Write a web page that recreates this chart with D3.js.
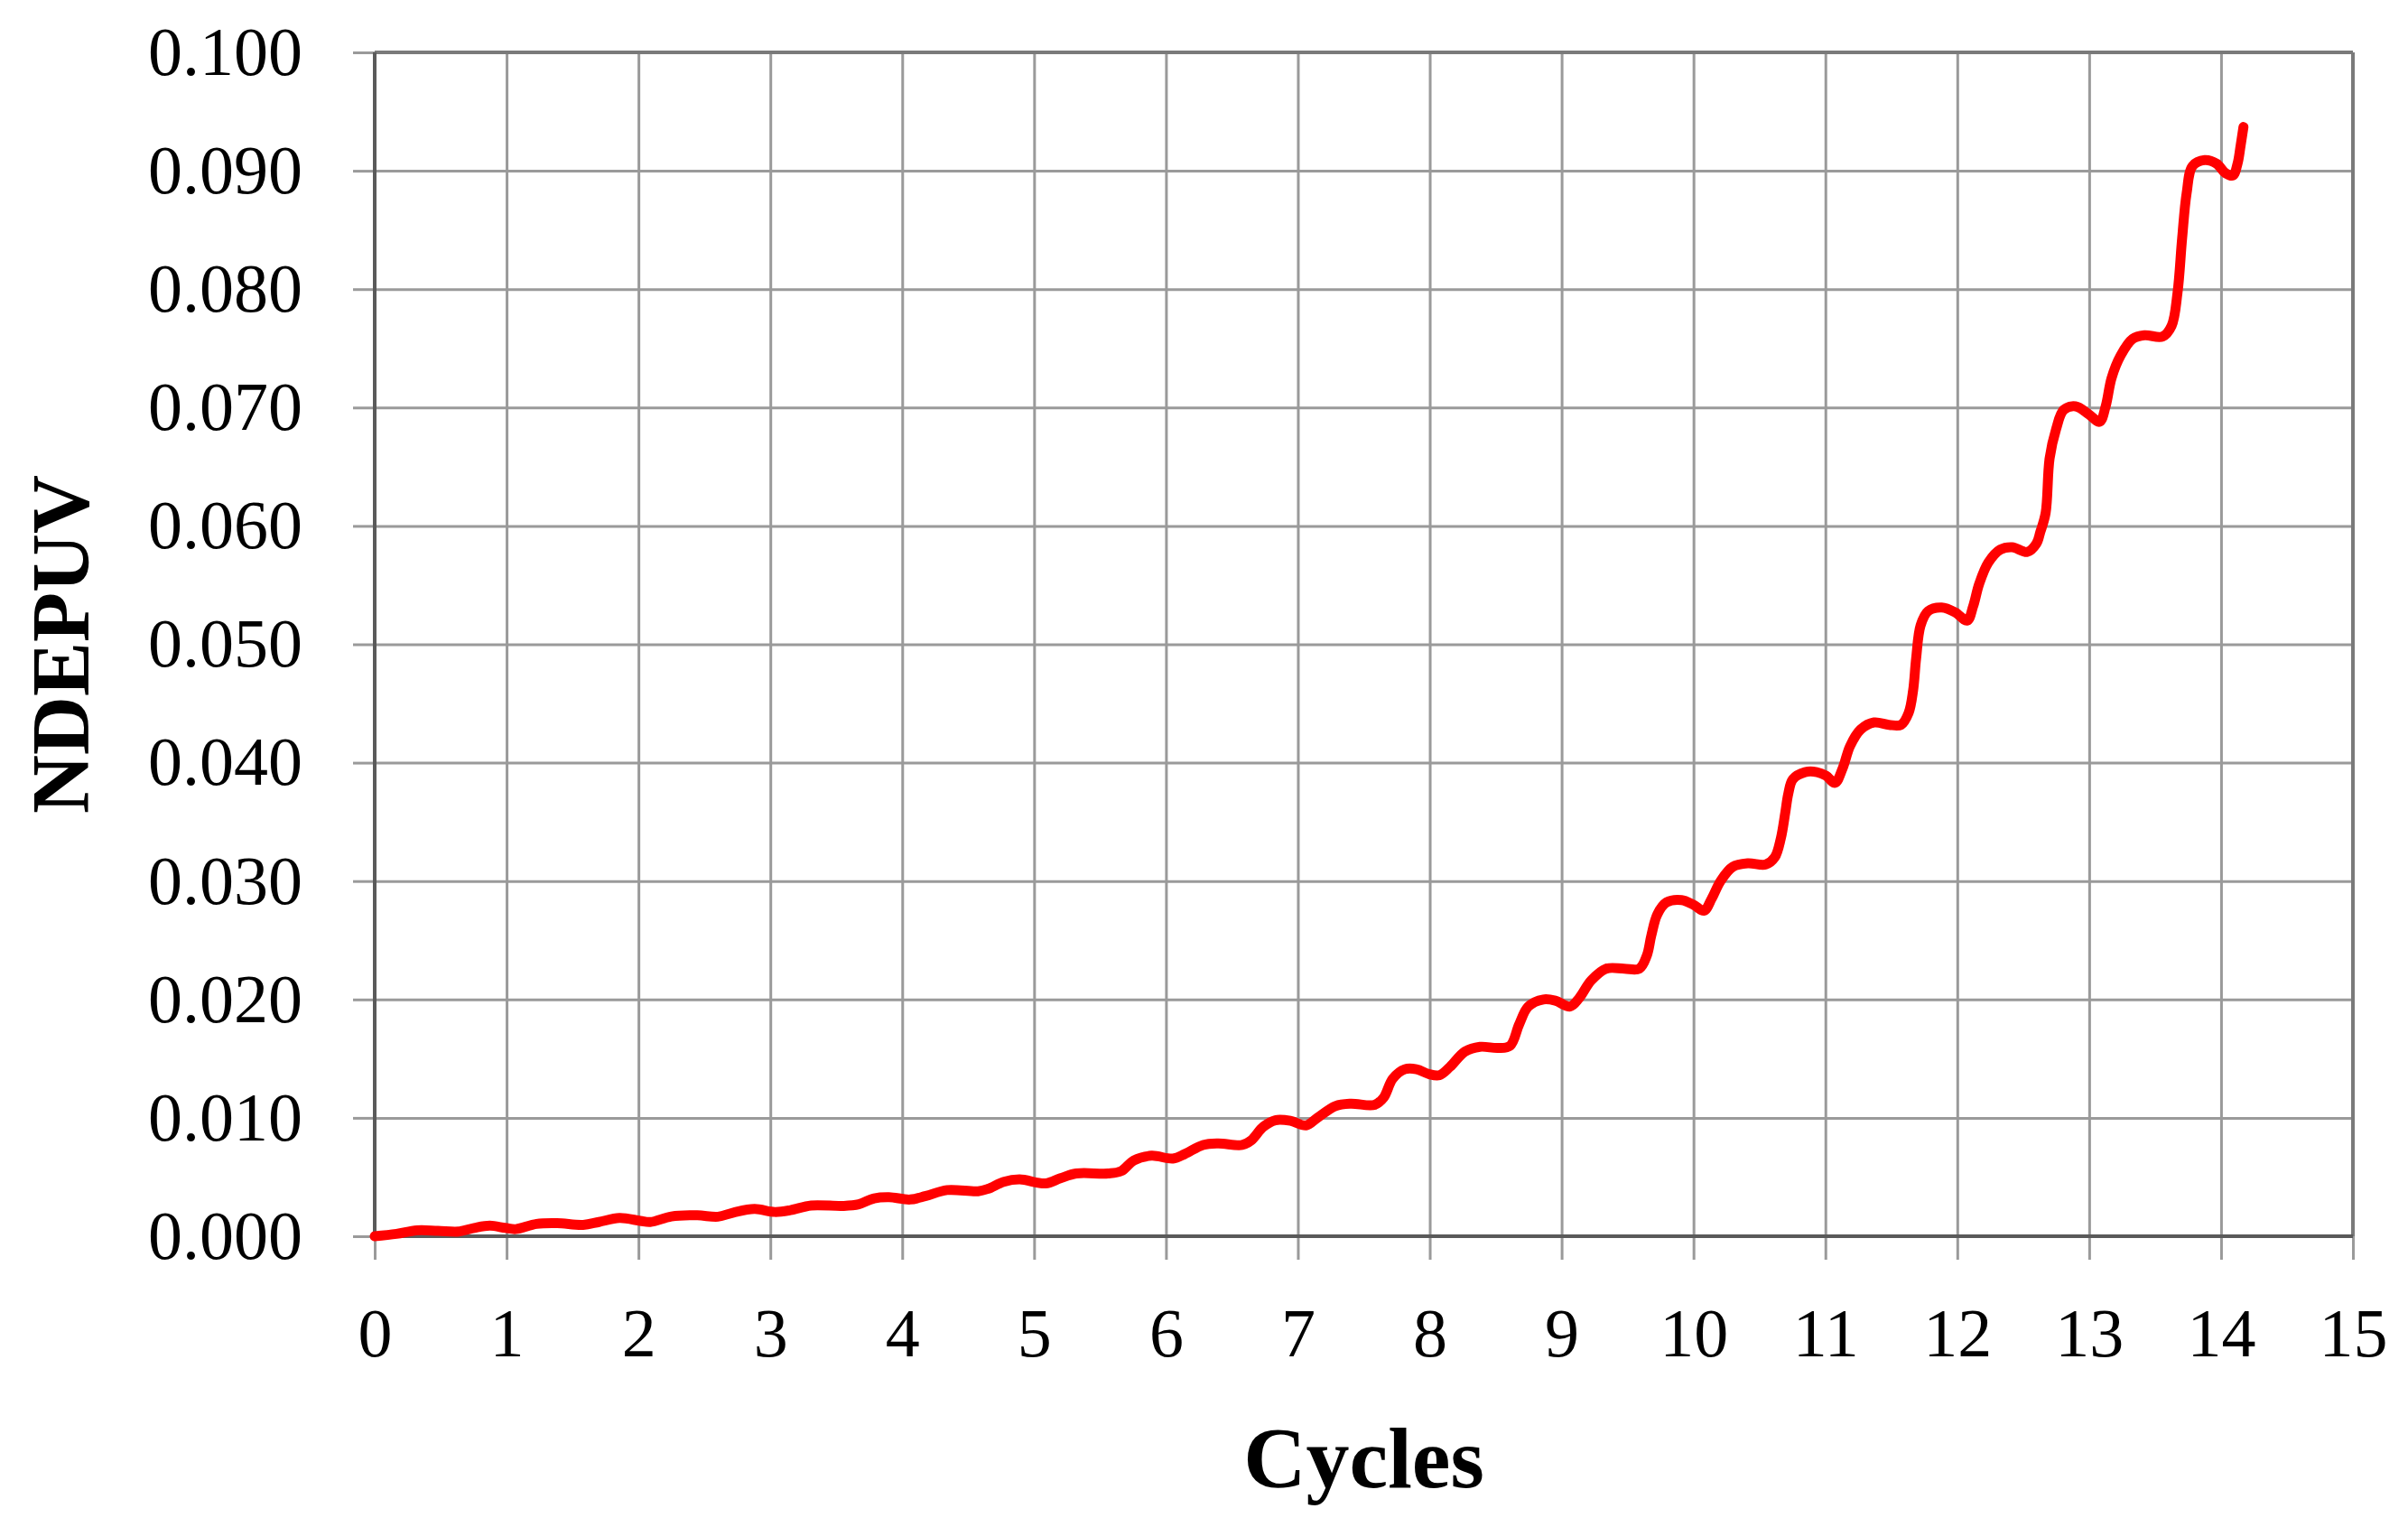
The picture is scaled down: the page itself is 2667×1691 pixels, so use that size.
<!DOCTYPE html>
<html>
<head>
<meta charset="utf-8">
<script src="https://cdn.jsdelivr.net/npm/d3@7"></script>
<style>
  html, body { margin: 0; padding: 0; background: #ffffff; }
  svg { display: block; }
  text { font-family: "Liberation Serif", "Times New Roman", serif; fill: #000; }
</style>
</head>
<body>
<svg id="chart" width="2667" height="1691"></svg>
<script>
// ---- data ----
const cycles = [
  0, 0.165, 0.32, 0.48, 0.638, 0.755, 0.873, 0.99, 1.07, 1.227, 1.384, 1.58, 1.70, 1.856,
  2.013, 2.09, 2.25, 2.446, 2.603, 2.72, 2.88, 3.035, 3.153, 3.31, 3.55, 3.67, 3.787, 3.9,
  4.06, 4.18, 4.34, 4.575, 4.65, 4.77, 4.89, 5.086, 5.2, 5.32, 5.56, 5.66, 5.756, 5.89,
  6.053, 6.144, 6.281, 6.395, 6.578, 6.646, 6.737, 6.829, 6.943, 7.062, 7.148, 7.285, 7.40,
  7.582, 7.65, 7.719, 7.81, 7.90, 7.993, 8.073, 8.153, 8.267, 8.381, 8.518, 8.61, 8.678,
  8.747, 8.861, 8.952, 9.064, 9.132, 9.224, 9.338, 9.475, 9.589, 9.646, 9.68, 9.726, 9.795,
  9.909, 10.0, 10.08, 10.137, 10.205, 10.297, 10.411, 10.548, 10.616, 10.662, 10.696, 10.719,
  10.753, 10.845, 10.936, 11.005, 11.073, 11.13, 11.187, 11.267, 11.369, 11.483, 11.574,
  11.631, 11.665, 11.688, 11.722, 11.779, 11.882, 11.984, 12.075, 12.12, 12.166, 12.235,
  12.326, 12.417, 12.531, 12.60, 12.63, 12.67, 12.70, 12.75, 12.807, 12.898, 13.0, 13.08,
  13.125, 13.17, 13.239, 13.33, 13.42, 13.557, 13.625, 13.67, 13.705, 13.739, 13.784, 13.875,
  13.966, 14.034, 14.09, 14.125, 14.148, 14.17
];
const ndepuv = [
  0, 0.0002, 0.0005, 0.00046, 0.0004, 0.0007, 0.00089, 0.0007, 0.0006, 0.00104, 0.0011, 0.00096, 0.0012, 0.00154,
  0.0013, 0.0012, 0.00167, 0.00177, 0.00165, 0.0020, 0.0023, 0.00205, 0.0022, 0.0026, 0.00256, 0.0027, 0.0032, 0.0033,
  0.0031, 0.0034, 0.0039, 0.0038, 0.0040, 0.0046, 0.0048, 0.00446, 0.0049, 0.0053, 0.0053, 0.0055, 0.0064, 0.0068,
  0.00656, 0.00695, 0.00771, 0.00784, 0.00771, 0.0081, 0.00924, 0.0098, 0.00975, 0.00936, 0.0100, 0.0110, 0.0112,
  0.0111, 0.0117, 0.0133, 0.0141, 0.0141, 0.0137, 0.0136, 0.0143, 0.0156, 0.0160, 0.0159, 0.0161, 0.0179,
  0.0194, 0.0200, 0.0199, 0.0194, 0.0201, 0.0216, 0.0226, 0.0226, 0.0226, 0.0237, 0.0254, 0.0272, 0.0282,
  0.0284, 0.0280, 0.0275, 0.0285, 0.0300, 0.0312, 0.0315, 0.0314, 0.0320, 0.0336, 0.0358, 0.0374,
  0.0386, 0.0392, 0.0392, 0.0389, 0.0383, 0.0395, 0.0414, 0.0428, 0.0434, 0.0432, 0.0432,
  0.0442, 0.0461, 0.0488, 0.0516, 0.0528, 0.0531, 0.0527, 0.0520, 0.0532, 0.0551, 0.0569,
  0.0580, 0.0582, 0.0578, 0.0585, 0.0595, 0.0611, 0.0657, 0.0682, 0.0698, 0.0701, 0.0694, 0.0688,
  0.0701, 0.0725, 0.0744, 0.0758, 0.0761, 0.0760, 0.0769, 0.0797, 0.0843, 0.0881, 0.0904, 0.0909,
  0.0906, 0.0898, 0.0896, 0.0906, 0.0921, 0.0937
];
const xTicks = [0, 1, 2, 3, 4, 5, 6, 7, 8, 9, 10, 11, 12, 13, 14, 15];
const yTicks = [0, 0.01, 0.02, 0.03, 0.04, 0.05, 0.06, 0.07, 0.08, 0.09, 0.1];
const xLabel = "Cycles";
const yLabel = "NDEPUV";

// ---- layout ----
const svg = d3.select("#chart");
const pL = 415, pR = 2606, pT = 58, pB = 1369;

const x = d3.scaleLinear().domain([0, 15]).range([pL, pR]);
const y = d3.scaleLinear().domain([0, 0.1]).range([pB, pT]);

const gridColor = "#9a9a9a";
const axisColor = "#5a5a5a";

// vertical gridlines
svg.append("g")
  .attr("transform", `translate(0,${pB})`)
  .call(d3.axisBottom(x).tickValues(xTicks).tickSize(-(pB - pT)).tickFormat(""))
  .call(g => g.select(".domain").remove())
  .call(g => g.selectAll(".tick line").attr("stroke", gridColor).attr("stroke-width", 3));

// x ticks + labels
svg.append("g")
  .attr("transform", `translate(0,${pB})`)
  .call(d3.axisBottom(x).tickValues(xTicks).tickSize(26).tickPadding(48).tickFormat(d3.format("d")))
  .call(g => g.select(".domain").remove())
  .call(g => g.selectAll(".tick line").attr("stroke", gridColor).attr("stroke-width", 3))
  .call(g => g.selectAll(".tick text")
      .attr("font-family", "Liberation Serif, serif")
      .attr("font-size", 76)
      .attr("fill", "#000")
      .attr("dy", "0.78em"));

// horizontal gridlines
svg.append("g")
  .attr("transform", `translate(${pL},0)`)
  .call(d3.axisLeft(y).tickValues(yTicks).tickSize(-(pR - pL)).tickFormat(""))
  .call(g => g.select(".domain").remove())
  .call(g => g.selectAll(".tick line").attr("stroke", gridColor).attr("stroke-width", 3));

// y ticks + labels
svg.append("g")
  .attr("transform", `translate(${pL},0)`)
  .call(d3.axisLeft(y).tickValues(yTicks).tickSize(24).tickPadding(56).tickFormat(d3.format(".3f")))
  .call(g => g.select(".domain").remove())
  .call(g => g.selectAll(".tick line").attr("stroke", gridColor).attr("stroke-width", 3))
  .call(g => g.selectAll(".tick text")
      .attr("font-family", "Liberation Serif, serif")
      .attr("font-size", 76)
      .attr("fill", "#000"));

// plot border
svg.append("line").attr("x1", pL).attr("x2", pR).attr("y1", pT).attr("y2", pT)
  .attr("stroke", "#7a7a7a").attr("stroke-width", 4);
svg.append("line").attr("x1", pR).attr("x2", pR).attr("y1", pT).attr("y2", pB)
  .attr("stroke", "#7a7a7a").attr("stroke-width", 4);
svg.append("line").attr("x1", pL).attr("x2", pL).attr("y1", pT).attr("y2", pB)
  .attr("stroke", axisColor).attr("stroke-width", 4);
svg.append("line").attr("x1", pL).attr("x2", pR).attr("y1", pB).attr("y2", pB)
  .attr("stroke", axisColor).attr("stroke-width", 4);

// data line
const pts = cycles.map((c, i) => [c, ndepuv[i]]);
const line = d3.line()
  .x(d => x(d[0]))
  .y(d => y(d[1]))
  .curve(d3.curveCatmullRom.alpha(0.5));

svg.append("path")
  .datum(pts)
  .attr("d", line)
  .attr("fill", "none")
  .attr("stroke", "#ff0000")
  .attr("stroke-width", 11)
  .attr("stroke-linecap", "round")
  .attr("stroke-linejoin", "round");

// axis titles
svg.append("text")
  .attr("x", (pL + pR) / 2)
  .attr("y", 1647)
  .attr("text-anchor", "middle")
  .attr("font-weight", "bold")
  .attr("font-size", 96)
  .text(xLabel);

svg.append("text")
  .attr("transform", `translate(98,${(pT + pB) / 2}) rotate(-90)`)
  .attr("text-anchor", "middle")
  .attr("font-weight", "bold")
  .attr("font-size", 90)
  .text(yLabel);
</script>
</body>
</html>
